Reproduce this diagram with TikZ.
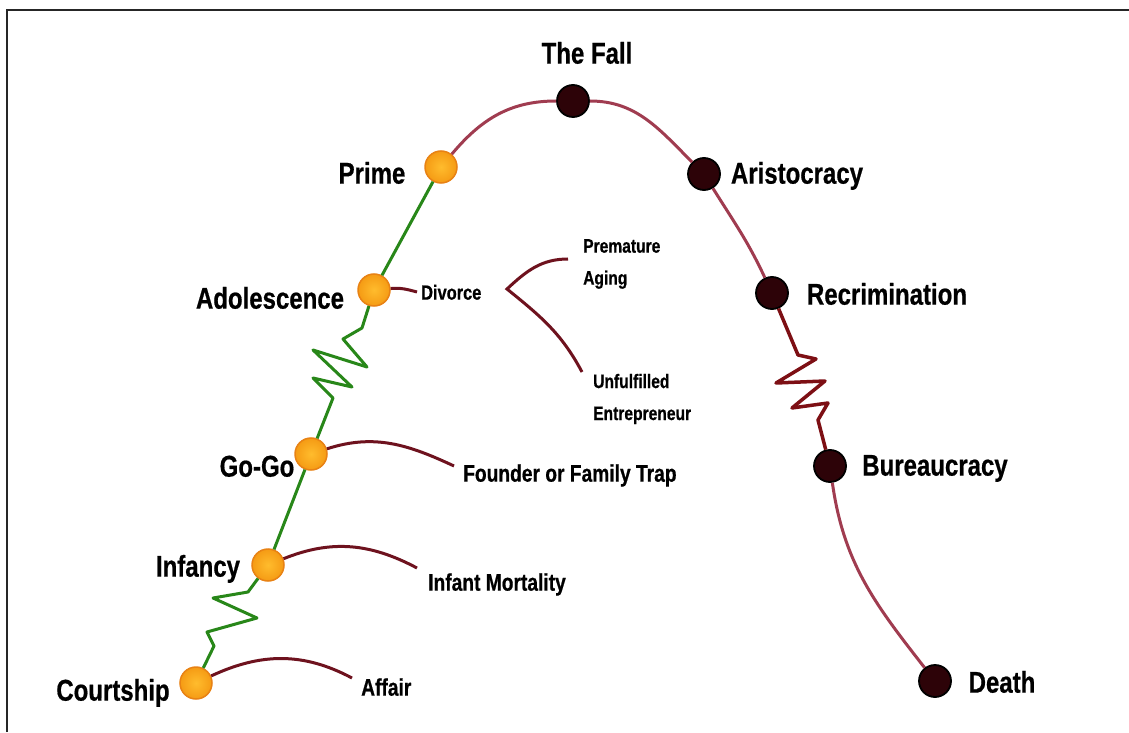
\documentclass[tikz,border=0pt]{standalone}
\usepackage{fontspec}
\setmainfont{Liberation Sans}[FakeStretch=0.8, BoldFeatures={FakeBold=0.6}]
\definecolor{lifeGreen}{RGB}{40,135,25}
\definecolor{arcRed}{RGB}{160,60,80}
\definecolor{zigRed}{RGB}{125,15,20}
\definecolor{sideRed}{RGB}{110,18,30}
\definecolor{orangeIn}{RGB}{255,188,45}
\definecolor{orangeOut}{RGB}{245,155,20}
\definecolor{orangeEdge}{RGB}{232,130,20}
\definecolor{darkFill}{RGB}{45,3,8}
\begin{document}
\begin{tikzpicture}[x=1pt,y=1pt,
  big/.style={font=\bfseries\fontsize{30}{36}\selectfont, inner sep=0pt, anchor=mid},
  small/.style={font=\bfseries\fontsize{24}{28}\selectfont, inner sep=0pt, anchor=mid west},
  tiny/.style={font=\bfseries\fontsize{19.5}{32}\selectfont, inner sep=0pt, align=left, anchor=west},
  onode/.style={circle, minimum size=32pt, inner sep=0pt, draw=orangeEdge, line width=1.5pt, inner color=orangeIn, outer color=orangeOut},
  dnode/.style={circle, minimum size=32pt, inner sep=0pt, draw=black, line width=1.8pt, fill=darkFill},
  gline/.style={draw=lifeGreen, line width=3pt, line join=round},
  rline/.style={draw=arcRed, line width=3pt},
  zline/.style={draw=zigRed, line width=3.5pt, line join=round},
  side/.style={draw=sideRed, line width=3pt},
]
\useasboundingbox (0,0) rectangle (1129,732);
\fill[white] (0,0) rectangle (1129,732);
\draw[line width=2pt, black!85] (7,0) -- (7,722) -- (1129,722);

% stage nodes
\node[dnode]  (fall)    at (573,631) {};
\node[onode]  (prime)   at (441,565) {};
\node[dnode]  (arist)   at (704,558) {};
\node[onode]  (adol)    at (374,442) {};
\node[dnode]  (recrim)  at (772,439) {};
\node[onode]  (gogo)    at (311,278) {};
\node[dnode]  (bureau)  at (830,266) {};
\node[onode]  (infancy) at (268,167) {};
\node[onode]  (court)   at (196,49) {};
\node[dnode]  (death)   at (935,51) {};

% labels
\node[big] (tfall)    at (587,671) {The Fall};
\node[big] (tprime)   at (372,551) {Prime};
\node[big] (tarist)   at (797,551) {Aristocracy};
\node[big] (tadol)    at (270,426) {Adolescence};
\node[big] (trecrim)  at (887,430) {Recrimination};
\node[big] (tgogo)    at (257,258) {Go-Go};
\node[big] (tbureau)  at (935,259) {Bureaucracy};
\node[big] (tinfancy) at (198,158) {Infancy};
\node[big] (tcourt)   at (113,34)  {Courtship};
\node[big] (tdeath)   at (1002,42) {Death};

\node[small, font=\bfseries\fontsize{20.5}{26}\selectfont] (tdivorce) at (421,435) {Divorce};
\node[tiny] (tpremature) at (583,468) {Premature\\Aging};
\node[tiny] (tunfulfilled) at (593,333) {Unfulfilled\\Entrepreneur};
\node[small] (tfounder) at (463,253) {Founder or Family Trap};
\node[small] (tinfant)  at (428,144) {Infant Mortality};
\node[small] (taffair)  at (361,39)  {Affair};

% life-cycle curve
\draw[gline] (court) -- (214,86) -- (207,100) -- (257,114) -- (213,134) -- (248,140) -- (infancy);
\draw[gline] (infancy) -- (gogo);
\draw[gline] (gogo) -- (333,334) -- (313,354) -- (352,345) -- (313,382) -- (367,365) -- (343,393) -- (362,404) -- (adol);
\draw[gline] (adol) -- (prime);
\draw[rline] (prime) to[out=50,in=180] (fall);
\draw[rline] (fall) to[out=0,in=135] (arist);
\draw[rline] (arist) to[out=-58,in=115] (recrim);
\draw[zline] (recrim) -- (798,377) -- (816,373) -- (776,349) -- (825,351) -- (792,324) -- (828,329) -- (818,312) -- (bureau);
\draw[rline] (bureau) to[out=-82,in=128] (death);

% side branches
\coordinate (divend) at (417,440);
\draw[side] (adol) to[out=5,in=165] (divend);
\coordinate (bt) at (568,473);
\coordinate (bv) at (507,443);
\coordinate (bb) at (582,360);
\draw[side, line join=miter] (bt) to[out=180,in=43] (bv) to[out=-39,in=118] (bb);
\coordinate (fend) at (454,266);
\draw[side] (gogo) to[out=18,in=155] (fend);
\coordinate (iend) at (417,164);
\draw[side] (infancy) to[out=22,in=152] (iend);
\coordinate (aend) at (352,54);
\draw[side] (court) to[out=25,in=152] (aend);
\end{tikzpicture}
\end{document}
